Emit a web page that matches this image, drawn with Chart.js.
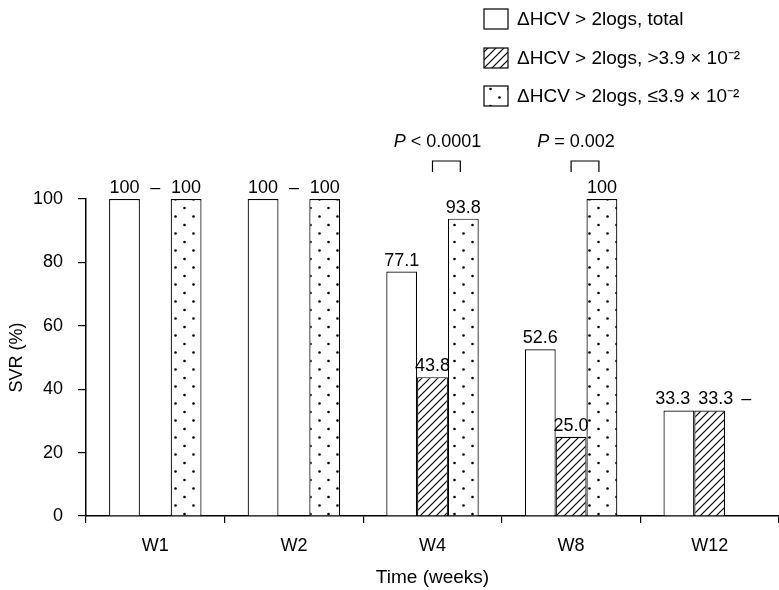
<!DOCTYPE html>
<html><head><meta charset="utf-8">
<script src="https://cdn.jsdelivr.net/npm/chart.js@4"></script>
<style>html,body{margin:0;padding:0;background:#fff}#wrap{width:779px;height:590px;position:relative}</style>
</head><body><div id="wrap"><canvas id="c"></canvas></div>
<script>
const categories = ["W1", "W2", "W4", "W8", "W12"];
const seriesNames = ["ΔHCV > 2logs, total", "ΔHCV > 2logs, >3.9 × 10⁻²", "ΔHCV > 2logs, ≤3.9 × 10⁻²"];
const totalValues = [100, 100, 77.1, 52.6, 33.3];
const highValues = [null, null, 43.8, 25.0, 33.3];
const lowValues = [100, 100, 93.8, 100, null];
const yTicks = [0, 20, 40, 60, 80, 100];
const pLabels = ["P < 0.0001", "P = 0.002"];
const pCategories = ["W4", "W8"];

const FONT = "'Liberation Sans', Arial, Helvetica, sans-serif";
const FS = 18;
Chart.defaults.font.family = FONT;
Chart.defaults.font.size = FS;
Chart.defaults.color = '#000';

const canvas = document.getElementById('c');
const ctx0 = canvas.getContext('2d');

function hatchPattern() {
  const s = 8;
  const c = document.createElement('canvas'); c.width = s; c.height = s;
  const g = c.getContext('2d');
  g.fillStyle = '#fff'; g.fillRect(0, 0, s, s);
  g.strokeStyle = '#000'; g.lineWidth = 1.2;
  g.beginPath();
  g.moveTo(0, s); g.lineTo(s, 0);
  g.moveTo(-2, 2); g.lineTo(2, -2);
  g.moveTo(s - 2, s + 2); g.lineTo(s + 2, s - 2);
  g.stroke();
  return ctx0.createPattern(c, 'repeat');
}
function dotPattern() {
  const w = 18, h = 17;
  const c = document.createElement('canvas'); c.width = w; c.height = h;
  const g = c.getContext('2d');
  g.fillStyle = '#fff'; g.fillRect(0, 0, w, h);
  g.fillStyle = '#000';
  g.beginPath(); g.arc(4.5, 4, 1.3, 0, Math.PI * 2); g.fill();
  g.beginPath(); g.arc(13.5, 12.5, 1.3, 0, Math.PI * 2); g.fill();
  return ctx0.createPattern(c, 'repeat');
}
const fills = ['#ffffff', hatchPattern(), dotPattern()];

function fmt(v) { return v === 100 ? '100' : v.toFixed(1); }

const valueLabels = {
  id: 'valueLabels',
  afterDatasetsDraw(chart) {
    const ctx = chart.ctx, y = chart.scales.y;
    ctx.save();
    ctx.font = FS + 'px ' + FONT;
    ctx.fillStyle = '#000';
    ctx.textAlign = 'center';
    ctx.textBaseline = 'alphabetic';
    const n = chart.data.labels.length;
    for (let i = 0; i < n; i++) {
      const items = chart.data.datasets.map((ds, di) => {
        const v = ds.data[i];
        const el = chart.getDatasetMeta(di).data[i];
        let txt, yy;
        if (v === null || v === undefined) {
          const others = chart.data.datasets.map(d => d.data[i]).filter(a => a !== null);
          txt = '–'; yy = y.getPixelForValue(Math.max(...others)) - 6;
        } else {
          txt = fmt(v); yy = y.getPixelForValue(v) - 6;
        }
        return { txt, x: el.x, y: yy, w: ctx.measureText(txt).width };
      });
      // push apart labels that collide on the same line
      const gap = 8;
      for (let k = 0; k < items.length - 1; k++) {
        const a = items[k], b = items[k + 1];
        if (Math.abs(a.y - b.y) > FS) continue;
        const ov = (a.x + a.w / 2 + gap) - (b.x - b.w / 2);
        if (ov > 0) {
          if (k === 0) { a.x -= ov / 2; b.x += ov / 2; } else { b.x += ov; }
        }
      }
      items.forEach(it => ctx.fillText(it.txt, it.x, it.y));
    }
    // P-value annotations
    const m1 = chart.getDatasetMeta(1), m2 = chart.getDatasetMeta(2);
    pCategories.forEach((cat, k) => {
      const i = categories.indexOf(cat);
      const xa = m1.data[i].x, xb = m2.data[i].x - 3;
      ctx.strokeStyle = '#000'; ctx.lineWidth = 1.2;
      ctx.beginPath();
      ctx.moveTo(xa, 172); ctx.lineTo(xa, 161); ctx.lineTo(xb, 161); ctx.lineTo(xb, 172);
      ctx.stroke();
      const txt = pLabels[k];
      const head = txt.charAt(0), rest = txt.slice(1);
      ctx.font = 'italic ' + FS + 'px ' + FONT;
      const wh = ctx.measureText(head).width;
      ctx.font = FS + 'px ' + FONT;
      const wr = ctx.measureText(rest).width;
      const cx = xa + 5;
      const sx = cx - (wh + wr) / 2;
      ctx.textAlign = 'left';
      ctx.font = 'italic ' + FS + 'px ' + FONT;
      ctx.fillText(head, sx, 147);
      ctx.font = FS + 'px ' + FONT;
      ctx.fillText(rest, sx + wh, 147);
      ctx.textAlign = 'center';
    });
    ctx.restore();
  },
  afterDraw(chart) {
    const ctx = chart.ctx;
    ctx.save();
    const ys = [9, 48, 86];
    chart.data.datasets.forEach((ds, di) => {
      const bx = 484, by = ys[di], bw = 24, bh = 20;
      ctx.fillStyle = ds.backgroundColor;
      ctx.fillRect(bx, by, bw, bh);
      ctx.strokeStyle = '#000'; ctx.lineWidth = 1.2;
      ctx.strokeRect(bx, by, bw, bh);
      ctx.fillStyle = '#000';
      ctx.font = '19px ' + FONT;
      ctx.textAlign = 'left'; ctx.textBaseline = 'middle';
      ctx.fillText(ds.label, 517, by + bh / 2 + 1);
    });
    ctx.restore();
  }
};

new Chart(canvas, {
  type: 'bar',
  data: {
    labels: categories,
    datasets: [
      { label: seriesNames[0], data: totalValues, backgroundColor: fills[0] },
      { label: seriesNames[1], data: highValues, backgroundColor: fills[1] },
      { label: seriesNames[2], data: lowValues, backgroundColor: fills[2] }
    ].map(d => Object.assign(d, { borderColor: '#000', borderWidth: 1.2, borderSkipped: 'bottom', categoryPercentage: 0.667, barPercentage: 1.0 }))
  },
  options: {
    responsive: true,
    maintainAspectRatio: false,
    animation: false,
    events: [],
    layout: { padding: { top: 199, right: -3, bottom: 0, left: 0 } },
    plugins: { legend: { display: false }, tooltip: { enabled: false } },
    scales: {
      x: {
        grid: { offset: true, drawOnChartArea: false, drawTicks: true, tickLength: 7, color: '#000', lineWidth: 1.2 },
        border: { display: true, color: '#000', width: 1.5 },
        ticks: { font: { size: FS }, padding: 12, color: '#000' },
        title: { display: true, text: 'Time (weeks)', font: { size: 19 }, color: '#000', padding: { top: 0, bottom: 1 } },
        afterFit(s) { s.height = 74; }
      },
      y: {
        min: 0, max: 100,
        afterBuildTicks(s) { s.ticks = yTicks.map(v => ({ value: v })); },
        grid: { drawOnChartArea: false, drawTicks: true, tickLength: 8, color: '#000', lineWidth: 1.2 },
        border: { display: true, color: '#000', width: 1.5 },
        ticks: { font: { size: FS }, padding: 15, color: '#000' },
        title: { display: true, text: 'SVR (%)', font: { size: FS }, color: '#000', padding: { top: 6, bottom: 0 } },
        afterFit(s) { s.width = 86; }
      }
    }
  },
  plugins: [valueLabels]
});
</script></body></html>
